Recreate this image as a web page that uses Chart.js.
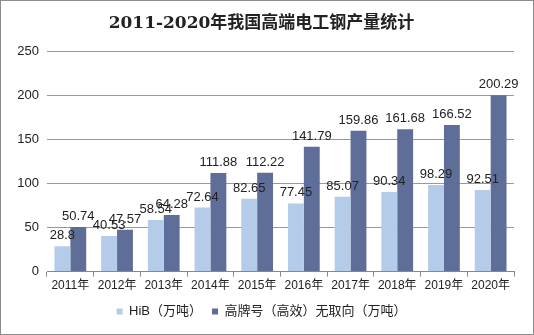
<!doctype html>
<html>
<head>
<meta charset="utf-8" />
<script src="https://cdn.jsdelivr.net/npm/chart.js@4/dist/chart.umd.min.js"></script>
<style>
  html, body { margin: 0; padding: 0; background: #fff; }
  #wrap { position: relative; width: 532px; height: 333px; border: 1px solid #8c8c8c; }
</style>
</head>
<body>
<div id="wrap"><canvas id="c" width="532" height="333"></canvas></div>
<script>
const years = ["2011年", "2012年", "2013年", "2014年", "2015年", "2016年", "2017年", "2018年", "2019年", "2020年"];
const hib = [28.8, 40.53, 58.54, 72.64, 82.65, 77.45, 85.07, 90.34, 98.29, 92.51];
const highGrade = [50.74, 47.57, 64.28, 111.88, 112.22, 141.79, 159.86, 161.68, 166.52, 200.29];

const labelPlugin = {
  id: "barLabels",
  afterDatasetsDraw(chart) {
    const ctx = chart.ctx;
    ctx.save();
    ctx.font = "13px 'Liberation Sans', Arial";
    ctx.fillStyle = "#222";
    ctx.textAlign = "center";
    ctx.textBaseline = "bottom";
    chart.data.datasets.forEach((ds, i) => {
      chart.getDatasetMeta(i).data.forEach((bar, j) => {
        ctx.fillText(String(ds.data[j]), bar.x, bar.y - 4);
      });
    });
    ctx.restore();
  }
};

new Chart(document.getElementById("c"), {
  type: "bar",
  data: {
    labels: years,
    datasets: [
      { label: "HiB（万吨）", data: hib, backgroundColor: "#b4cce9" },
      { label: "高牌号（高效）无取向（万吨）", data: highGrade, backgroundColor: "#5f6e98" }
    ]
  },
  options: {
    responsive: false,
    animation: false,
    layout: { padding: { left: 8, right: 19, top: 8, bottom: 6 } },
    datasets: { bar: { barPercentage: 1, categoryPercentage: 0.68 } },
    plugins: {
      title: {
        display: true,
        text: "2011-2020年我国高端电工钢产量统计",
        color: "#222",
        font: { family: "'DejaVu Serif', 'Noto Sans CJK SC'", size: 17, weight: "bold" },
        padding: { top: 4, bottom: 18 }
      },
      legend: {
        position: "bottom",
        labels: {
          boxWidth: 6, boxHeight: 6, color: "#222", padding: 10,
          font: { family: "'Liberation Sans', 'Noto Sans CJK SC'", size: 13 }
        }
      },
      tooltip: { enabled: false }
    },
    scales: {
      x: {
        grid: { display: true, drawOnChartArea: false, drawTicks: true, tickLength: 5, color: "#888", offset: true },
        border: { color: "#888" },
        ticks: { color: "#222", font: { family: "'Liberation Sans', 'Noto Sans CJK SC'", size: 12 }, maxRotation: 0, autoSkip: false, padding: 2 }
      },
      y: {
        min: 0, max: 250,
        ticks: { stepSize: 50, color: "#222", font: { family: "'Liberation Sans', Arial", size: 13 }, padding: 8 },
        grid: { color: "#999", drawTicks: false },
        border: { display: false },
        afterFit(s) { s.width = 38; }
      }
    }
  },
  plugins: [labelPlugin]
});
</script>
</body>
</html>
